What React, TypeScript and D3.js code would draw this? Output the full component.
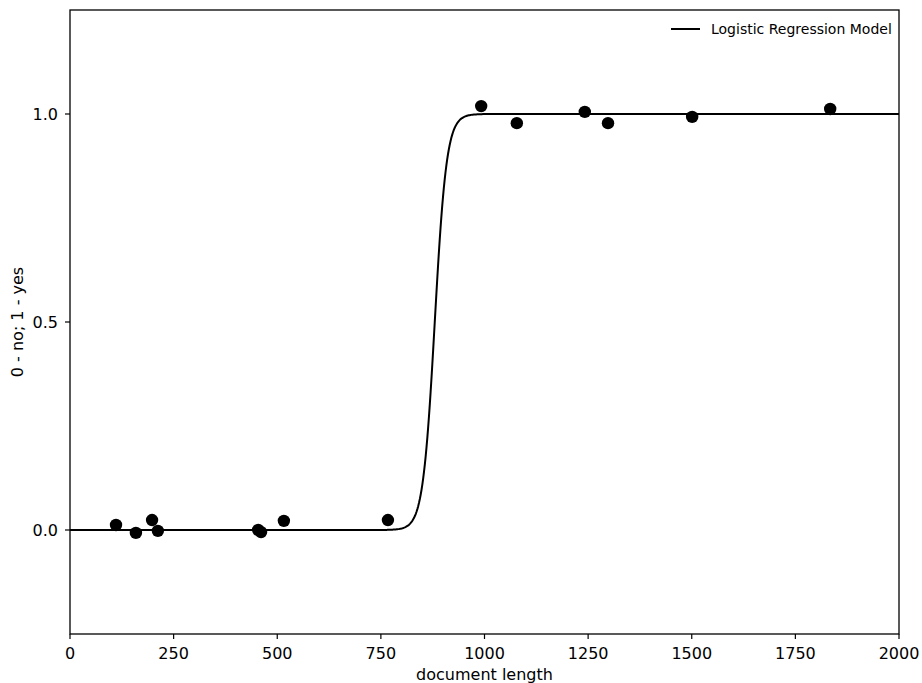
import React from "react";
import * as d3 from "d3";

const docLength = [111, 159, 198, 212, 454, 461, 516, 767, 992, 1078, 1242, 1298, 1501, 1834];
const outcome = [0.012, -0.007, 0.024, -0.002, 0.0, -0.005, 0.022, 0.024, 1.019, 0.978, 1.005, 0.978, 0.993, 1.012];
const xTicks = [0, 250, 500, 750, 1000, 1250, 1500, 1750, 2000];
const yTicks = [0.0, 0.5, 1.0];
const modelMid = 880;
const modelSlope = 0.07;

const W = 922, H = 683;
const L = 70, R = 899, T = 10, B = 634;

export default function App() {
  const x = d3.scaleLinear().domain([0, 2000]).range([L, R]);
  const y = d3.scaleLinear().domain([-0.25, 1.25]).range([B, T]);
  const curveX = d3.range(0, 2000.5, 2);
  const line = d3
    .line<number>()
    .x((d) => x(d))
    .y((d) => y(1 / (1 + Math.exp(-modelSlope * (d - modelMid)))));
  const font = "DejaVu Sans, sans-serif";
  return (
    <svg width={W} height={H} style={{ position: "absolute", left: 0, top: 0, background: "#fff" }}>
      <defs>
        <clipPath id="plotclip">
          <rect x={L} y={T} width={R - L} height={B - T} />
        </clipPath>
      </defs>
      <g clipPath="url(#plotclip)">
        <path d={line(curveX) || ""} fill="none" stroke="#000" strokeWidth={2} />
        {docLength.map((d, i) => (
          <circle key={i} cx={x(d)} cy={y(outcome[i])} r={6.2} fill="#000" />
        ))}
      </g>
      <rect x={L} y={T} width={R - L} height={B - T} fill="none" stroke="#000" strokeWidth={1.3} />
      {xTicks.map((t) => (
        <g key={t}>
          <line x1={x(t)} x2={x(t)} y1={B} y2={B + 5} stroke="#000" strokeWidth={1.2} />
          <text x={x(t)} y={659} textAnchor="middle" fontFamily={font} fontSize={16} fill="#000">
            {t}
          </text>
        </g>
      ))}
      {yTicks.map((t) => (
        <g key={t}>
          <line x1={L - 5} x2={L} y1={y(t)} y2={y(t)} stroke="#000" strokeWidth={1.2} />
          <text x={L - 12} y={y(t) + 6} textAnchor="end" fontFamily={font} fontSize={16} fill="#000">
            {t.toFixed(1)}
          </text>
        </g>
      ))}
      <text x={(L + R) / 2} y={680} textAnchor="middle" fontFamily={font} fontSize={16} fill="#000">
        document length
      </text>
      <text
        transform={`translate(23, ${(T + B) / 2}) rotate(-90)`}
        textAnchor="middle"
        fontFamily={font}
        fontSize={16}
        fill="#000"
      >
        0 - no; 1 - yes
      </text>
      <line x1={671} x2={700} y1={29} y2={29} stroke="#000" strokeWidth={2} />
      <text x={711} y={34} fontFamily={font} fontSize={14} fill="#000">
        Logistic Regression Model
      </text>
    </svg>
  );
}
